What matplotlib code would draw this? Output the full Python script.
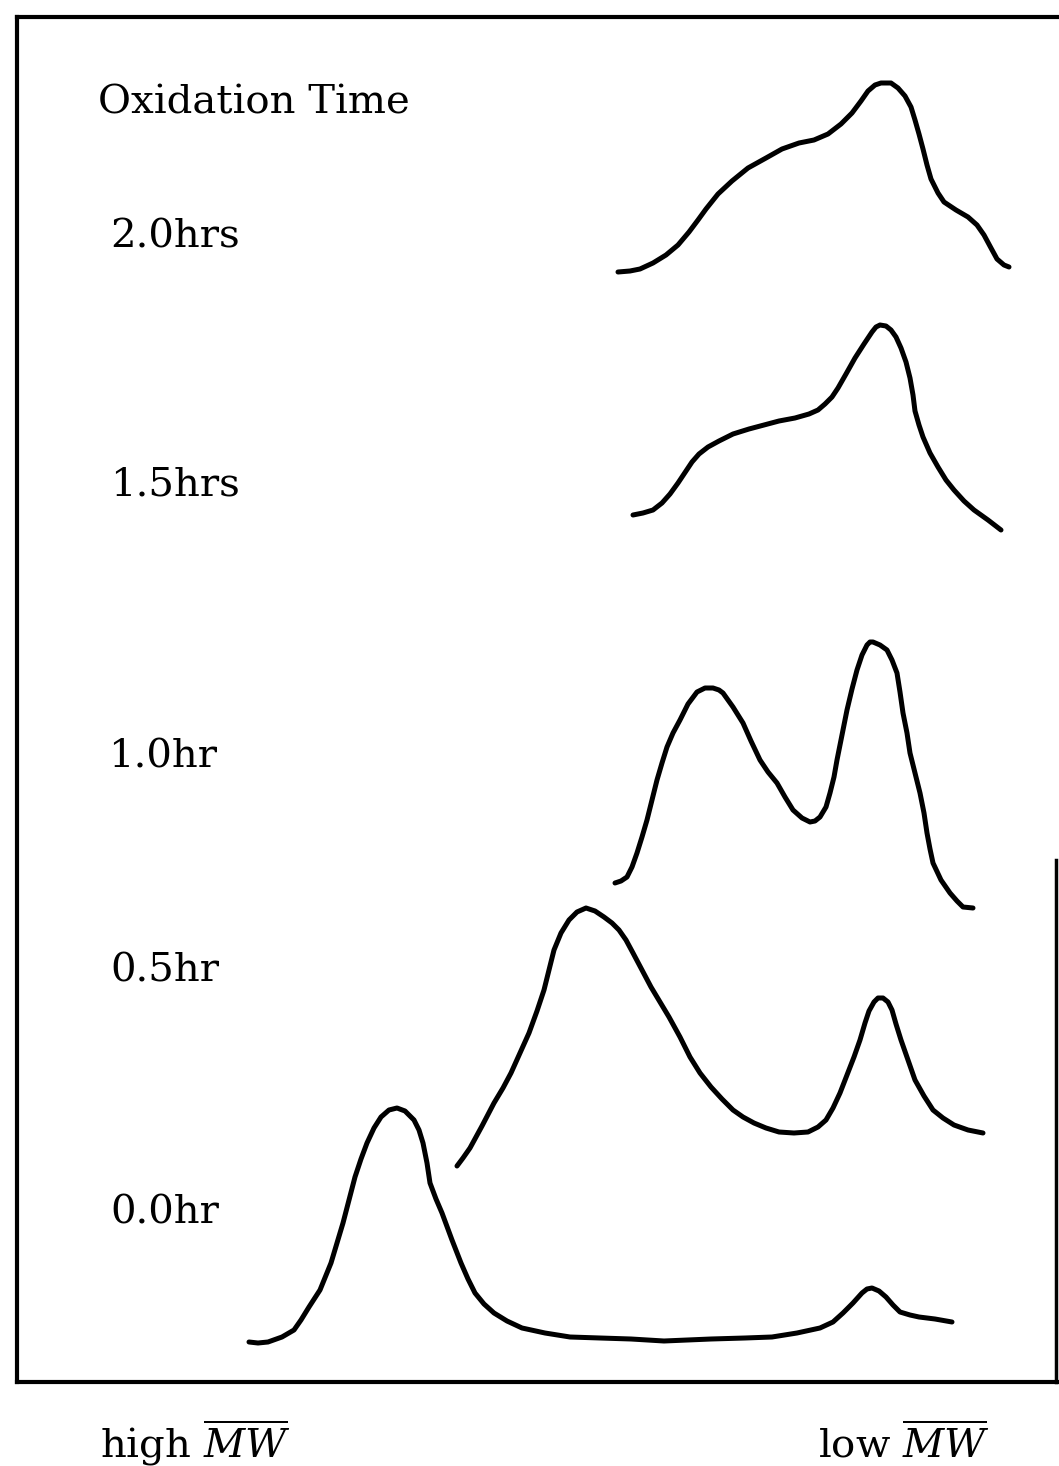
import numpy as np
import matplotlib
matplotlib.use("Agg")
import matplotlib.pyplot as plt

plt.rcParams['font.family'] = ['DejaVu Serif']
plt.rcParams['mathtext.fontset'] = 'dejavuserif'

# Traces (x = elution position, y = position on the page, down is larger)
x_20 = [618, 630, 640, 653, 666, 678, 689, 698, 706, 718, 732, 748, 766, 782, 799, 814, 828, 841, 852, 861,
        868, 875, 881, 891, 898, 905, 911, 915, 919, 923, 927, 931, 938, 944, 956, 968, 977, 984, 991, 997, 1004, 1009]
y_20 = [272, 271, 269, 263, 255, 245, 232, 220, 209, 194, 181, 168, 158, 149, 143, 140, 134, 124, 113, 101,
        91, 85, 83, 83, 88, 96, 107, 120, 134, 149, 165, 179, 193, 202, 210, 217, 225, 235, 248, 259, 265, 267]

x_15 = [633, 643, 653, 662, 670, 678, 686, 692, 699, 708, 719, 733, 749, 764, 779, 795, 809, 818, 825, 832,
        838, 846, 855, 864, 872, 876, 880, 886, 891, 896, 901, 906, 910, 913, 915, 919, 923, 930, 938, 946, 954, 964, 974, 988, 1001]
y_15 = [515, 513, 510, 503, 494, 483, 471, 462, 454, 447, 441, 434, 429, 425, 421, 418, 414, 410, 404, 397,
        388, 374, 358, 344, 332, 327, 325, 326, 330, 337, 348, 362, 378, 395, 411, 425, 437, 453, 467, 480, 490, 501, 510, 520, 530]

x_10 = [615, 621, 627, 632, 637, 642, 647, 652, 657, 662, 667, 673, 680, 688, 697, 705, 713, 719, 723, 733,
        743, 751, 760, 768, 777, 785, 793, 802, 810, 815, 820, 826, 830, 834, 837, 842, 847, 852, 857, 862,
        867, 870, 873, 880, 887, 892, 897, 900, 903, 907, 910, 915, 920, 924, 927, 930, 933, 941, 950, 957, 963, 973]
y_10 = [883, 881, 877, 867, 853, 837, 820, 800, 780, 763, 747, 733, 720, 704, 692, 688, 688, 690, 693, 707,
        723, 741, 760, 772, 783, 797, 810, 818, 822, 821, 817, 807, 793, 777, 760, 735, 710, 689, 670, 655,
        645, 642, 642, 645, 650, 660, 673, 692, 713, 733, 753, 773, 793, 813, 833, 849, 863, 880, 893, 901, 907, 908]

x_05 = [457, 463, 470, 482, 494, 503, 511, 520, 529, 537, 544, 549, 554, 561, 569, 577, 586, 595, 604, 612,
        619, 626, 633, 642, 651, 660, 669, 680, 690, 700, 711, 722, 733, 743, 754, 766, 779, 794, 808, 818,
        826, 833, 840, 847, 854, 860, 865, 869, 874, 878, 883, 888, 892, 896, 901, 908, 915, 924, 933, 943, 954, 968, 983]
y_05 = [1166, 1158, 1148, 1126, 1103, 1088, 1073, 1053, 1033, 1011, 990, 970, 950, 933, 920, 912, 908, 911, 917, 923,
        930, 940, 953, 970, 987, 1002, 1017, 1037, 1057, 1073, 1087, 1099, 1110, 1117, 1123, 1128, 1132, 1133, 1132, 1127,
        1120, 1108, 1093, 1075, 1057, 1040, 1023, 1011, 1002, 998, 998, 1002, 1010, 1024, 1040, 1060, 1080, 1096, 1110, 1118, 1125, 1130, 1133]

x_00 = [249, 258, 268, 282, 294, 301, 309, 320, 331, 343, 355, 361, 367, 374, 381, 389, 397, 405, 414, 419,
        423, 427, 430, 436, 442, 452, 461, 468, 475, 484, 494, 507, 522, 545, 570, 600, 631, 664, 711, 745,
        772, 797, 820, 833, 843, 853, 862, 867, 872, 879, 886, 893, 900, 910, 919, 935, 952]
y_00 = [1342, 1343, 1342, 1337, 1330, 1320, 1307, 1290, 1263, 1223, 1177, 1159, 1143, 1128, 1117, 1110, 1108, 1111, 1120, 1130,
        1143, 1163, 1183, 1199, 1213, 1240, 1263, 1279, 1293, 1304, 1313, 1321, 1328, 1333, 1337, 1338, 1339, 1341, 1339, 1338,
        1337, 1333, 1328, 1322, 1313, 1303, 1293, 1289, 1288, 1291, 1297, 1305, 1312, 1315, 1317, 1319, 1322]

traces = [(x_20, y_20), (x_15, y_15), (x_10, y_10), (x_05, y_05), (x_00, y_00)]

time_labels = ['2.0hrs', '1.5hrs', '1.0hr', '0.5hr', '0.0hr']
label_x = [110, 110, 108, 110, 110]
label_y = [248, 495, 768, 982, 1224]

W, H = 1059, 1466
fig = plt.figure(figsize=(W / 100, H / 100), dpi=100)
left, right, top, bottom = 17, 1057, 17, 1382
ax = fig.add_axes([left / W, 1 - bottom / H, (right - left) / W, (bottom - top) / H])
ax.set_xlim(left, right)
ax.set_ylim(bottom, top)
ax.set_xticks([])
ax.set_yticks([])
for side in ['top', 'left', 'bottom']:
    ax.spines[side].set_linewidth(3)
ax.spines['right'].set_visible(False)
# the scan only shows the lower part of the right border
ax.plot([right - 1, right - 1], [860, bottom], color='black', lw=2.5, clip_on=False)

for xs, ys in traces:
    ax.plot(xs, ys, color='black', lw=3.6, solid_capstyle='round', solid_joinstyle='round')

ax.text(98, 113, 'Oxidation Time', fontsize=29, va='baseline', ha='left')
for lab, lx, ly in zip(time_labels, label_x, label_y):
    ax.text(lx, ly, lab, fontsize=29, va='baseline', ha='left')

ax.text(100, 1457, r'high $\overline{MW}$', fontsize=29, va='baseline', ha='left', clip_on=False)
ax.text(818, 1457, r'low $\overline{MW}$', fontsize=29, va='baseline', ha='left', clip_on=False)

fig.savefig('out.png', dpi=100)
